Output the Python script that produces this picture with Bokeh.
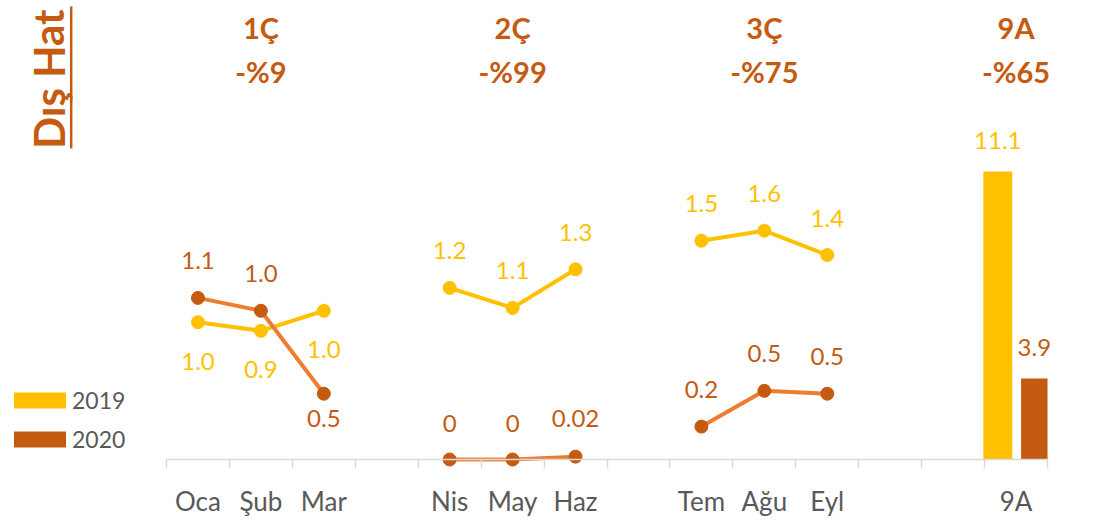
from bokeh.plotting import figure
from bokeh.models import Range1d, FixedTicker, Legend, LegendItem, ColumnDataSource
from bokeh.core.properties import value
from bokeh.embed import file_html
from bokeh.resources import INLINE

# ---------------- data ----------------
months = ["Oca", "Şub", "Mar", "Nis", "May", "Haz", "Tem", "Ağu", "Eyl"]
vals_2019 = [0.96, 0.90, 1.04, 1.20, 1.06, 1.33, 1.53, 1.60, 1.43]
vals_2020 = [1.13, 1.04, 0.46, 0.0, 0.0, 0.02, 0.23, 0.48, 0.46]
labels_2019 = ["1.0", "0.9", "1.0", "1.2", "1.1", "1.3", "1.5", "1.6", "1.4"]
labels_2020 = ["1.1", "1.0", "0.5", "0", "0", "0.02", "0.2", "0.5", "0.5"]
total_label = "9A"
total_2019 = [11.1]
total_2020 = [3.9]
total_labels_2019 = ["11.1"]
total_labels_2020 = ["3.9"]
period_titles = ["1Ç", "2Ç", "3Ç", "9A"]
period_changes = ["-%9", "-%99", "-%75", "-%65"]
series_names = ["2019", "2020"]
side_title = "Dış Hat"

# ---------------- style ----------------
C19 = "#FFC000"
C20 = "#C55A11"
C20_LINE = "#ED7D31"
GREY_TXT = "#595959"
AXIS_C = "#D9D9D9"
FONT = "Lato"

W, H = 1094, 518
SLOT_PX = 62.93          # px per category slot
AX_LEFT = 166            # px of slot edge 0
AX_BASE = 459            # px of y = 0
Y_PX = 143.0             # px per unit (lines)
BAR_PX = 28.75           # px per unit (bars, secondary scale)
BAR_AXIS_MIN = 1.08      # secondary axis minimum (as in source chart)


def xd(px):
    return (px - AX_LEFT) / SLOT_PX


def yd(py):
    return (AX_BASE - py) / Y_PX


def yb(py):
    return BAR_AXIS_MIN + (AX_BASE - py) / BAR_PX


# slot positions: three months per quarter, gap slot between quarters
xs = [i + i // 3 + 0.5 for i in range(len(months))]
x_total = 13.5

p = figure(width=W, height=H, output_backend="svg", toolbar_location=None,
           x_range=Range1d(xd(0), xd(W)), y_range=Range1d(yd(H), yd(0)),
           y_axis_location=None, x_axis_location="below",
           min_border=0, min_border_left=0, min_border_right=0,
           min_border_top=0, min_border_bottom=0)
p.extra_y_ranges = {"bars": Range1d(yb(H), yb(0))}
p.outline_line_color = None
p.xgrid.visible = False
p.ygrid.visible = False
p.background_fill_color = "white"
p.border_fill_color = "white"

# ---------------- axis ----------------
ax = p.xaxis[0]
ax.fixed_location = 0
ax.bounds = (0, 14)
tick_pos = xs + [x_total]
ax.ticker = FixedTicker(ticks=tick_pos, minor_ticks=list(range(15)))
ax.major_label_overrides = {float(t): lab for t, lab in zip(tick_pos, months + [total_label])}
ax.axis_line_color = AXIS_C
ax.axis_line_width = 1.5
ax.major_tick_line_color = None
ax.major_tick_in = 0
ax.major_tick_out = 0
ax.minor_tick_line_color = AXIS_C
ax.minor_tick_line_width = 1.5
ax.minor_tick_in = 0
ax.minor_tick_out = 9
ax.major_label_standoff = 16
ax.major_label_text_font = FONT
ax.major_label_text_font_size = "26px"
ax.major_label_text_color = GREY_TXT

# ---------------- bars (secondary scale) ----------------
src_b19 = ColumnDataSource(dict(x=[x_total - 0.29], top=total_2019, lab=total_labels_2019))
src_b20 = ColumnDataSource(dict(x=[x_total + 0.29], top=total_2020, lab=total_labels_2020))
bar19 = p.vbar(x="x", top="top", bottom=BAR_AXIS_MIN, width=0.46, source=src_b19,
               fill_color=C19, line_color=None, y_range_name="bars")
bar20 = p.vbar(x="x", top="top", bottom=BAR_AXIS_MIN, width=0.42, source=src_b20,
               fill_color=C20, line_color=None, y_range_name="bars")
for src, col in ((src_b19, C19), (src_b20, C20)):
    p.text(x="x", y="top", text="lab", source=src, y_range_name="bars",
           text_align="center", text_baseline="middle", y_offset=-31,
           text_font=value(FONT), text_font_size="24px", text_color=col)

# ---------------- lines ----------------
off_2019 = [39, 39, 39, -37, -37, -37, -37, -37, -37]
off_2020 = [-37, -37, 25, -36, -36, -38, -37, -37, -37]

for vals, lcol, mcol in ((vals_2019, C19, C19), (vals_2020, C20_LINE, C20)):
    for q in range(3):
        sl = slice(3 * q, 3 * q + 3)
        p.line(xs[sl], vals[sl], line_color=lcol, line_width=4)
    p.scatter(xs, vals, size=13, fill_color=mcol, line_color=mcol)

for vals, labs, offs, col in ((vals_2019, labels_2019, off_2019, C19),
                              (vals_2020, labels_2020, off_2020, C20)):
    src = ColumnDataSource(dict(x=xs, y=vals, lab=labs, off=offs))
    p.text(x="x", y="y", text="lab", y_offset="off", source=src,
           text_align="center", text_baseline="middle",
           text_font=value(FONT), text_font_size="24px", text_color=col)

# ---------------- period headers ----------------
hx = [1.5, 5.5, 9.5, x_total]
p.text(x=hx, y=[yd(26.5)] * 4, text=period_titles, text_align="center",
       text_baseline="middle", text_font=value(FONT), text_font_size="29px",
       text_font_style="bold", text_color=C20)
p.text(x=hx, y=[yd(71)] * 4, text=period_changes, text_align="center",
       text_baseline="middle", text_font=value(FONT), text_font_size="29px",
       text_font_style="bold", text_color=C20)

# ---------------- side title ----------------
p.text(x=[xd(48)], y=[yd(78.5)], text=[side_title], angle=1.5708,
       text_align="center", text_baseline="middle", text_font=value(FONT),
       text_font_size="42px", text_font_style="bold", text_color=C20)
p.segment(x0=[xd(70.7)], y0=[yd(6)], x1=[xd(70.7)], y1=[yd(148)],
          line_color=C20, line_width=2.5)

# ---------------- legend ----------------
legend = Legend(items=[LegendItem(label=series_names[0], renderers=[bar19]),
                       LegendItem(label=series_names[1], renderers=[bar20])],
                location=(7, 65), glyph_width=65, glyph_height=20, label_height=20,
                label_standoff=0, spacing=11, padding=0, margin=0,
                border_line_color=None, background_fill_alpha=0,
                label_text_font=FONT, label_text_font_size="23px",
                label_text_color=GREY_TXT)
p.add_layout(legend)

open("out.html", "w").write(file_html(p, INLINE))
